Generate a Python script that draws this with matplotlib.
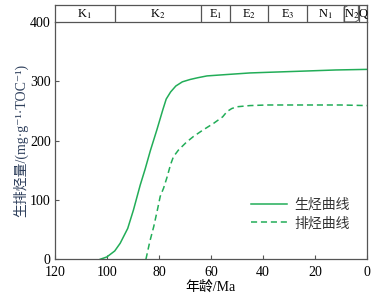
import matplotlib
matplotlib.use("Agg")
import matplotlib.pyplot as plt
from matplotlib.patches import Polygon

plt.rcParams["font.family"] = ["Liberation Serif", "Noto Sans CJK SC", "DejaVu Serif"]
plt.rcParams["mathtext.fontset"] = "stix"

GREEN = "#22ad58"
AXIS = "#555555"

# ── Data ──────────────────────────────────────────────────────────────────────
gen_age = [102.6, 100, 97, 94.9, 92, 89.8, 87.2, 85.3, 83.3, 80.8, 78.5, 77.2,
           75.5, 73.5, 71, 68, 65, 61.5, 55, 45, 38.5, 25, 12, 0]
gen_val = [0, 4, 14, 27, 52, 83, 125, 152, 183, 218, 252, 270,
           282, 292, 299, 303, 306, 309, 311, 314, 315, 317, 319, 320]

exp_age = [85, 83.5, 82, 80.5, 79.5, 78.2, 76.9, 75.5, 74.4, 72.5, 69.5, 66.7,
           63, 59, 55.5, 53.8, 52, 50, 45, 38.5, 30, 20, 10, 0]
exp_val = [0, 30, 55, 85, 106, 120, 138, 160, 173, 184, 197, 207,
           218, 229, 240, 249, 254, 257, 259, 260, 260, 260, 260, 259]

strata_edges = [120, 97, 64, 52.5, 38, 23, 9, 3, 0]
strata_labels = ["K$_1$", "K$_2$", "E$_1$", "E$_2$", "E$_3$", "N$_1$", "N$_2$", "Q"]

# ── Figure ────────────────────────────────────────────────────────────────────
fig = plt.figure(figsize=(3.76, 2.96), dpi=100)
ax = fig.add_axes([0.146, 0.124, 0.83, 0.802])
band = fig.add_axes([0.146, 0.926, 0.83, 0.057])

ax.plot(gen_age, gen_val, color=GREEN, lw=1.1, label="生烃曲线")
ax.plot(exp_age, exp_val, color=GREEN, lw=1.1, ls=(0, (4, 2.5)), label="排烃曲线")

ax.set_xlim(120, 0)
ax.set_ylim(0, 400)
ax.set_xticks([120, 100, 80, 60, 40, 20, 0])
ax.set_yticks([0, 100, 200, 300, 400])
ax.tick_params(direction="in", length=3, labelsize=10, colors="black",
               color=AXIS, pad=2)
ax.tick_params(axis="x", pad=5)
ax.tick_params(axis="y", pad=3)
for s in ax.spines.values():
    s.set_color(AXIS)
    s.set_linewidth(0.9)
ax.spines["top"].set_visible(False)

ax.set_xlabel("年龄/Ma", fontsize=10, labelpad=1)
ax.set_ylabel("生排烃量/(mg·g⁻¹·TOC⁻¹)", fontsize=10, color="#2e3f5c",
              labelpad=1)

ax.legend(loc="lower right", bbox_to_anchor=(0.985, 0.07), frameon=False,
          fontsize=10, handlelength=2.6, handletextpad=0.5, labelspacing=0.35,
          labelcolor="#333333")

# ── Stratigraphic band ──
band.set_xlim(120, 0)
band.set_ylim(0, 1)
band.set_xticks([])
band.set_yticks([])
for s in band.spines.values():
    s.set_color(AXIS)
    s.set_linewidth(0.9)
for left, right, lab in zip(strata_edges[:-1], strata_edges[1:], strata_labels):
    band.axvline(right, color=AXIS, lw=0.9)
    x = (left + right) / 2
    if lab == "Q":
        x = right + 1.4
    band.text(x, 0.45, lab, ha="center", va="center", fontsize=9)
n2_left, n2_right = strata_edges[6], strata_edges[7]
band.add_patch(Polygon([(n2_left - 0.2, 0.85), (n2_left - 2.0, 1.0),
                        (n2_right + 0.3, 1.0), (n2_right + 0.3, 0.1),
                        (n2_right + 1.5, 0.0), (n2_left - 0.2, 0.0)],
                       closed=True, fill=False, edgecolor=AXIS, lw=0.7))

fig.savefig("out.png", dpi=100)
